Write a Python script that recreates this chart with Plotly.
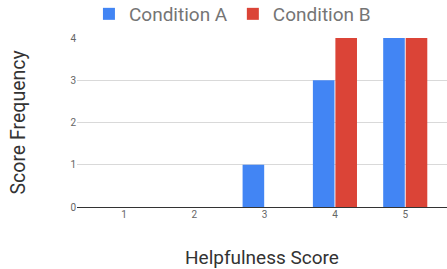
import plotly.graph_objects as go

scores = [1, 2, 3, 4, 5]
cond_a = [0, 0, 1, 3, 4]
cond_b = [0, 0, 0, 4, 4]

fig = go.Figure()
fig.add_trace(go.Bar(x=scores, y=cond_a, name="Condition A", marker_color="#4285F4"))
fig.add_trace(go.Bar(x=scores, y=cond_b, name="Condition B", marker_color="#DB4437"))

fig.update_layout(
    template="none",
    width=447, height=269,
    margin=dict(l=77, r=0, t=38, b=62, autoexpand=False),
    paper_bgcolor="white", plot_bgcolor="white",
    font=dict(family="Roboto", color="#444"),
    barmode="group", bargap=0.36, bargroupgap=0.04,
    showlegend=True,
    legend=dict(orientation="h", x=0.52, xanchor="center", xref="container",
                y=0.948, yanchor="middle", yref="container",
                font=dict(size=19, color="#757575"), itemwidth=30,
                bgcolor="rgba(0,0,0,0)"),
    xaxis=dict(range=[0.331, 5.594], tickvals=scores, ticktext=[str(s) for s in scores],
               tickfont=dict(size=10, color="#666"), showgrid=False, zeroline=False,
               showline=False, ticks="", automargin=False),
    yaxis=dict(range=[0, 4], tickvals=[0, 1, 2, 3, 4], tickfont=dict(size=10, color="#666"),
               showgrid=True, gridcolor="#d9d9d9", zeroline=True, zerolinecolor="#333",
               zerolinewidth=1, ticks="", ticklen=0, automargin=False),
    annotations=[
        dict(text="Helpfulness Score", xref="paper", yref="paper", x=0.5, y=0,
             yshift=-50, xanchor="center", yanchor="middle", showarrow=False,
             font=dict(size=19, color="#333")),
        dict(text="Score Frequency", xref="paper", yref="paper", x=0, y=0.5,
             xshift=-59, xanchor="center", yanchor="middle", showarrow=False, textangle=-90,
             font=dict(size=19.5, color="#333")),
    ],
)
fig.write_html("out.html", config={"displayModeBar": False},
               post_script="document.body.style.margin='0';")
